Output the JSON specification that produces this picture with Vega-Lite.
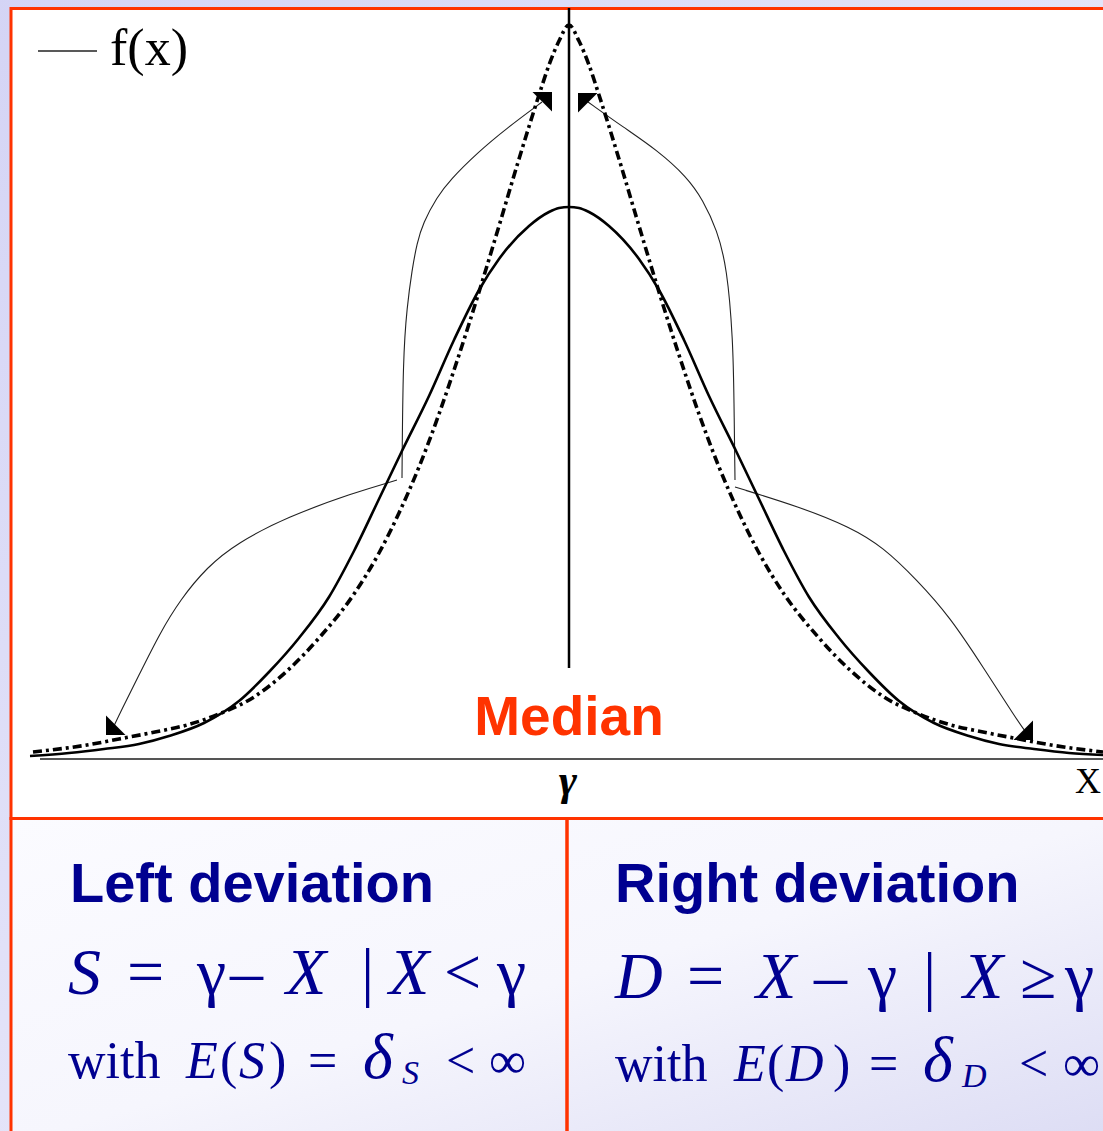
{
  "$schema": "https://vega.github.io/schema/vega-lite/v6.json",
  "width": 1103,
  "height": 1131,
  "autosize": {"type": "fit", "contains": "padding"},
  "padding": 0,
  "background": "#ffffff",
  "config": {"view": {"stroke": null}},
  "datasets": {
    "canvas": [{"x": -575, "x2": 545, "y": 770, "y2": -385}],
    "panels": [
      {"x": -558, "x2": -2, "y": -59.5, "y2": -385},
      {"x": -2, "x2": 548, "y": -59.5, "y2": -385}
    ],
    "panelArea": [{"x": -558, "x2": 548, "y": -59.5, "y2": -385}],
    "frame": [{"x": -558, "x2": 548, "y": 750.5, "y2": -59.5}],
    "axisLine": [{"x": -529, "x2": 540, "y": 0}],
    "medianLine": [{"x": 0, "y": 91, "y2": 751}],
    "legendKey": [{"x": -531, "x2": -472, "y": 708}],
    "normalCurve": [
      {"x": -539, "y": 3}, {"x": -500, "y": 6}, {"x": -465, "y": 10}, {"x": -430, "y": 15},
      {"x": -400, "y": 23}, {"x": -365, "y": 36}, {"x": -330, "y": 58}, {"x": -300, "y": 87},
      {"x": -270, "y": 121}, {"x": -240, "y": 162}, {"x": -215, "y": 208}, {"x": -190, "y": 260},
      {"x": -168, "y": 306}, {"x": -140, "y": 363}, {"x": -115, "y": 419}, {"x": -90, "y": 469},
      {"x": -70, "y": 500}, {"x": -40, "y": 533}, {"x": -20, "y": 547}, {"x": -10, "y": 551},
      {"x": 0, "y": 552},
      {"x": 10, "y": 551}, {"x": 20, "y": 547}, {"x": 40, "y": 533}, {"x": 70, "y": 500},
      {"x": 90, "y": 469}, {"x": 115, "y": 419}, {"x": 140, "y": 363}, {"x": 168, "y": 306},
      {"x": 190, "y": 260}, {"x": 215, "y": 208}, {"x": 240, "y": 162}, {"x": 270, "y": 121},
      {"x": 300, "y": 87}, {"x": 330, "y": 58}, {"x": 365, "y": 36}, {"x": 400, "y": 23},
      {"x": 430, "y": 15}, {"x": 465, "y": 10}, {"x": 500, "y": 6}, {"x": 534, "y": 4}
    ],
    "peakedCurve": [
      {"x": -536, "y": 7}, {"x": -482, "y": 14}, {"x": -450, "y": 20}, {"x": -414, "y": 27},
      {"x": -382, "y": 34}, {"x": -350, "y": 45}, {"x": -315, "y": 62}, {"x": -282, "y": 88},
      {"x": -250, "y": 121}, {"x": -215, "y": 165}, {"x": -190, "y": 206}, {"x": -170, "y": 246},
      {"x": -150, "y": 292}, {"x": -130, "y": 345}, {"x": -110, "y": 404}, {"x": -90, "y": 467},
      {"x": -70, "y": 533}, {"x": -50, "y": 600}, {"x": -30, "y": 664}, {"x": -20, "y": 694},
      {"x": -10, "y": 718}, {"x": 0, "y": 734},
      {"x": 10, "y": 718}, {"x": 20, "y": 694}, {"x": 30, "y": 664}, {"x": 50, "y": 600},
      {"x": 70, "y": 533}, {"x": 90, "y": 467}, {"x": 110, "y": 404}, {"x": 130, "y": 345},
      {"x": 150, "y": 292}, {"x": 170, "y": 246}, {"x": 190, "y": 206}, {"x": 215, "y": 165},
      {"x": 250, "y": 121}, {"x": 282, "y": 88}, {"x": 315, "y": 62}, {"x": 350, "y": 45},
      {"x": 382, "y": 34}, {"x": 414, "y": 27}, {"x": 450, "y": 20}, {"x": 482, "y": 14},
      {"x": 534, "y": 7}
    ],
    "connectors": [
      {"arrow": "leftUp", "step": 0, "x": -167, "y": 281},
      {"arrow": "leftUp", "step": 1, "x": -166, "y": 402},
      {"arrow": "leftUp", "step": 2, "x": -162, "y": 452},
      {"arrow": "leftUp", "step": 3, "x": -157, "y": 489},
      {"arrow": "leftUp", "step": 4, "x": -152, "y": 516},
      {"arrow": "leftUp", "step": 5, "x": -146, "y": 536},
      {"arrow": "leftUp", "step": 6, "x": -132, "y": 562},
      {"arrow": "leftUp", "step": 7, "x": -119, "y": 579},
      {"arrow": "leftUp", "step": 8, "x": -92, "y": 606},
      {"arrow": "leftUp", "step": 9, "x": -62, "y": 631},
      {"arrow": "leftUp", "step": 10, "x": -27, "y": 657},
      {"arrow": "rightUp", "step": 0, "x": 166, "y": 279},
      {"arrow": "rightUp", "step": 1, "x": 165, "y": 359},
      {"arrow": "rightUp", "step": 2, "x": 164, "y": 419},
      {"arrow": "rightUp", "step": 3, "x": 158, "y": 492},
      {"arrow": "rightUp", "step": 4, "x": 148, "y": 529},
      {"arrow": "rightUp", "step": 5, "x": 134, "y": 559},
      {"arrow": "rightUp", "step": 6, "x": 118, "y": 582},
      {"arrow": "rightUp", "step": 7, "x": 88, "y": 609},
      {"arrow": "rightUp", "step": 8, "x": 54, "y": 632},
      {"arrow": "rightUp", "step": 9, "x": 19, "y": 657},
      {"arrow": "leftDown", "step": 0, "x": -172, "y": 279},
      {"arrow": "leftDown", "step": 1, "x": -216, "y": 266},
      {"arrow": "leftDown", "step": 2, "x": -282, "y": 242},
      {"arrow": "leftDown", "step": 3, "x": -332, "y": 216},
      {"arrow": "leftDown", "step": 4, "x": -362, "y": 192},
      {"arrow": "leftDown", "step": 5, "x": -389, "y": 159},
      {"arrow": "leftDown", "step": 6, "x": -409, "y": 126},
      {"arrow": "leftDown", "step": 7, "x": -429, "y": 86},
      {"arrow": "leftDown", "step": 8, "x": -449, "y": 46},
      {"arrow": "leftDown", "step": 9, "x": -455, "y": 33},
      {"arrow": "rightDown", "step": 0, "x": 166, "y": 272},
      {"arrow": "rightDown", "step": 1, "x": 231, "y": 252},
      {"arrow": "rightDown", "step": 2, "x": 281, "y": 232},
      {"arrow": "rightDown", "step": 3, "x": 314, "y": 212},
      {"arrow": "rightDown", "step": 4, "x": 348, "y": 179},
      {"arrow": "rightDown", "step": 5, "x": 381, "y": 142},
      {"arrow": "rightDown", "step": 6, "x": 414, "y": 92},
      {"arrow": "rightDown", "step": 7, "x": 448, "y": 39},
      {"arrow": "rightDown", "step": 8, "x": 456, "y": 28}
    ],
    "arrowHeads": [
      {"dir": "upRight", "x": -17, "y": 667},
      {"dir": "upLeft", "x": 9, "y": 666},
      {"dir": "downLeft", "x": -463, "y": 24},
      {"dir": "downRight", "x": 464, "y": 19}
    ],
    "legendLabel": [{"x": -459, "y": 694, "text": "f(x)"}],
    "medianLabel": [{"x": 0, "y": 24, "text": "Median"}],
    "gammaTick": [{"x": -1, "y": -36, "text": "γ"}],
    "axisName": [{"x": 519, "y": -34, "text": "X"}],
    "headings": [
      {"x": -499, "y": -143, "text": "Left deviation"},
      {"x": 46, "y": -143, "text": "Right deviation"}
    ],
    "eqUpright": [
      {"x": -442, "y": -235, "text": "="},
      {"x": -372, "y": -235, "text": "γ"},
      {"x": -339, "y": -235, "text": "–"},
      {"x": -208, "y": -235, "text": "|"},
      {"x": -125, "y": -235, "text": "<"},
      {"x": -72, "y": -235, "text": "γ"},
      {"x": 118, "y": -239, "text": "="},
      {"x": 245, "y": -239, "text": "–"},
      {"x": 299, "y": -239, "text": "γ"},
      {"x": 354, "y": -239, "text": "|"},
      {"x": 451, "y": -239, "text": "≥"},
      {"x": 496, "y": -239, "text": "γ"}
    ],
    "eqItalic": [
      {"x": -501, "y": -235, "text": "S"},
      {"x": -283, "y": -235, "text": "X"},
      {"x": -180, "y": -235, "text": "X"},
      {"x": 46, "y": -239, "text": "D"},
      {"x": 187, "y": -239, "text": "X"},
      {"x": 394, "y": -239, "text": "X"}
    ],
    "expUpright": [
      {"x": -501, "y": -319, "text": "with"},
      {"x": -349, "y": -319, "text": "("},
      {"x": -300, "y": -319, "text": ")"},
      {"x": -261, "y": -319, "text": "="},
      {"x": -123, "y": -319, "text": "<"},
      {"x": -80, "y": -319, "text": "∞"},
      {"x": 46, "y": -322, "text": "with"},
      {"x": 198, "y": -322, "text": "("},
      {"x": 264, "y": -322, "text": ")"},
      {"x": 300, "y": -322, "text": "="},
      {"x": 450, "y": -322, "text": "<"},
      {"x": 494, "y": -322, "text": "∞"}
    ],
    "expItalic": [
      {"x": -383, "y": -319, "text": "E"},
      {"x": -330, "y": -319, "text": "S"},
      {"x": 165, "y": -322, "text": "E"},
      {"x": 217, "y": -322, "text": "D"}
    ],
    "expDelta": [
      {"x": -206, "y": -319, "text": "δ"},
      {"x": 354, "y": -322, "text": "δ"}
    ],
    "expSubscript": [
      {"x": -167, "y": -325, "text": "S"},
      {"x": 393, "y": -328, "text": "D"}
    ]
  },
  "encoding": {
    "x": {"field": "x", "type": "quantitative", "scale": {"domain": [-569, 534], "nice": false, "zero": false}, "axis": null},
    "y": {"field": "y", "type": "quantitative", "scale": {"domain": [-372, 759], "nice": false, "zero": false}, "axis": null}
  },
  "layer": [
    {
      "data": {"name": "canvas"},
      "mark": {"type": "rect", "clip": true, "fill": {"gradient": "linear", "x1": 0, "y1": 0, "x2": 1, "y2": 1, "stops": [{"offset": 0, "color": "#D4D4F5"}, {"offset": 1, "color": "#F3F3FC"}]}},
      "encoding": {"x2": {"field": "x2"}, "y2": {"field": "y2"}}
    },
    {
      "data": {"name": "panelArea"},
      "mark": {"type": "rect", "clip": true, "fill": {"gradient": "linear", "x1": 0, "y1": 0, "x2": 1, "y2": 1, "stops": [{"offset": 0, "color": "#FBFBFF"}, {"offset": 0.5, "color": "#F6F6FD"}, {"offset": 1, "color": "#DCDCF4"}]}},
      "encoding": {"x2": {"field": "x2"}, "y2": {"field": "y2"}}
    },
    {
      "data": {"name": "panels"},
      "mark": {"type": "rect", "clip": true, "fillOpacity": 0, "stroke": "#FF3300", "strokeWidth": 3},
      "encoding": {"x2": {"field": "x2"}, "y2": {"field": "y2"}}
    },
    {
      "data": {"name": "frame"},
      "mark": {"type": "rect", "clip": true, "fill": "#ffffff", "stroke": "#FF3300", "strokeWidth": 3},
      "encoding": {"x2": {"field": "x2"}, "y2": {"field": "y2"}}
    },
    {
      "data": {"name": "axisLine"},
      "mark": {"type": "rule", "clip": true, "color": "#555555", "strokeWidth": 2},
      "encoding": {"x2": {"field": "x2"}}
    },
    {
      "data": {"name": "medianLine"},
      "mark": {"type": "rule", "clip": true, "color": "#000000", "strokeWidth": 2.5},
      "encoding": {"y2": {"field": "y2"}}
    },
    {
      "data": {"name": "legendKey"},
      "mark": {"type": "rule", "clip": true, "color": "#222222", "strokeWidth": 1.5},
      "encoding": {"x2": {"field": "x2"}}
    },
    {
      "data": {"name": "connectors"},
      "mark": {"type": "line", "clip": true, "interpolate": "basis", "strokeJoin": "round", "color": "#222222", "strokeWidth": 1.1},
      "encoding": {"detail": {"field": "arrow"}, "order": {"field": "step", "type": "quantitative"}}
    },
    {
      "data": {"name": "normalCurve"},
      "mark": {"type": "line", "clip": true, "interpolate": "monotone", "strokeJoin": "round", "color": "#000000", "strokeWidth": 2.6},
      "encoding": {}
    },
    {
      "data": {"name": "peakedCurve"},
      "mark": {"type": "line", "clip": true, "interpolate": "monotone", "strokeJoin": "round", "color": "#000000", "strokeWidth": 3.6, "strokeDash": [9, 4, 3, 4]},
      "encoding": {}
    },
    {
      "data": {"name": "arrowHeads"},
      "mark": {"type": "point", "clip": true, "filled": true, "opacity": 1, "color": "#000000", "size": 380},
      "encoding": {
        "shape": {
          "field": "dir",
          "type": "nominal",
          "scale": {
            "domain": ["upRight", "upLeft", "downLeft", "downRight"],
            "range": ["M0,0L-2,0L0,2Z", "M0,0L2,0L0,2Z", "M0,0L0,-2L2,0Z", "M0,0L0,-2L-2,0Z"]
          },
          "legend": null
        }
      }
    },
    {
      "data": {"name": "legendLabel"},
      "mark": {"type": "text", "clip": true, "align": "left", "baseline": "alphabetic", "font": "Liberation Serif", "fontSize": 52, "color": "#000000"},
      "encoding": {"text": {"field": "text"}}
    },
    {
      "data": {"name": "medianLabel"},
      "mark": {"type": "text", "clip": true, "align": "center", "baseline": "alphabetic", "font": "Liberation Sans", "fontWeight": "bold", "fontSize": 55, "color": "#FF3300"},
      "encoding": {"text": {"field": "text"}}
    },
    {
      "data": {"name": "gammaTick"},
      "mark": {"type": "text", "clip": true, "align": "center", "baseline": "alphabetic", "font": "Liberation Serif", "fontStyle": "italic", "fontWeight": "bold", "fontSize": 44, "color": "#000000"},
      "encoding": {"text": {"field": "text"}}
    },
    {
      "data": {"name": "axisName"},
      "mark": {"type": "text", "clip": true, "align": "center", "baseline": "alphabetic", "font": "Liberation Serif", "fontSize": 36, "color": "#000000"},
      "encoding": {"text": {"field": "text"}}
    },
    {
      "data": {"name": "headings"},
      "mark": {"type": "text", "clip": true, "align": "left", "baseline": "alphabetic", "font": "Liberation Sans", "fontWeight": "bold", "fontSize": 56, "color": "#000090"},
      "encoding": {"text": {"field": "text"}}
    },
    {
      "data": {"name": "eqUpright"},
      "mark": {"type": "text", "clip": true, "align": "left", "baseline": "alphabetic", "font": "Liberation Serif", "fontSize": 66, "color": "#000090"},
      "encoding": {"text": {"field": "text"}}
    },
    {
      "data": {"name": "eqItalic"},
      "mark": {"type": "text", "clip": true, "align": "left", "baseline": "alphabetic", "font": "Liberation Serif", "fontStyle": "italic", "fontSize": 66, "color": "#000090"},
      "encoding": {"text": {"field": "text"}}
    },
    {
      "data": {"name": "expUpright"},
      "mark": {"type": "text", "clip": true, "align": "left", "baseline": "alphabetic", "font": "Liberation Serif", "fontSize": 52, "color": "#000090"},
      "encoding": {"text": {"field": "text"}}
    },
    {
      "data": {"name": "expItalic"},
      "mark": {"type": "text", "clip": true, "align": "left", "baseline": "alphabetic", "font": "Liberation Serif", "fontStyle": "italic", "fontSize": 52, "color": "#000090"},
      "encoding": {"text": {"field": "text"}}
    },
    {
      "data": {"name": "expDelta"},
      "mark": {"type": "text", "clip": true, "align": "left", "baseline": "alphabetic", "font": "Liberation Serif", "fontStyle": "italic", "fontSize": 64, "color": "#000090"},
      "encoding": {"text": {"field": "text"}}
    },
    {
      "data": {"name": "expSubscript"},
      "mark": {"type": "text", "clip": true, "align": "left", "baseline": "alphabetic", "font": "Liberation Serif", "fontStyle": "italic", "fontSize": 34, "color": "#000090"},
      "encoding": {"text": {"field": "text"}}
    }
  ]
}
